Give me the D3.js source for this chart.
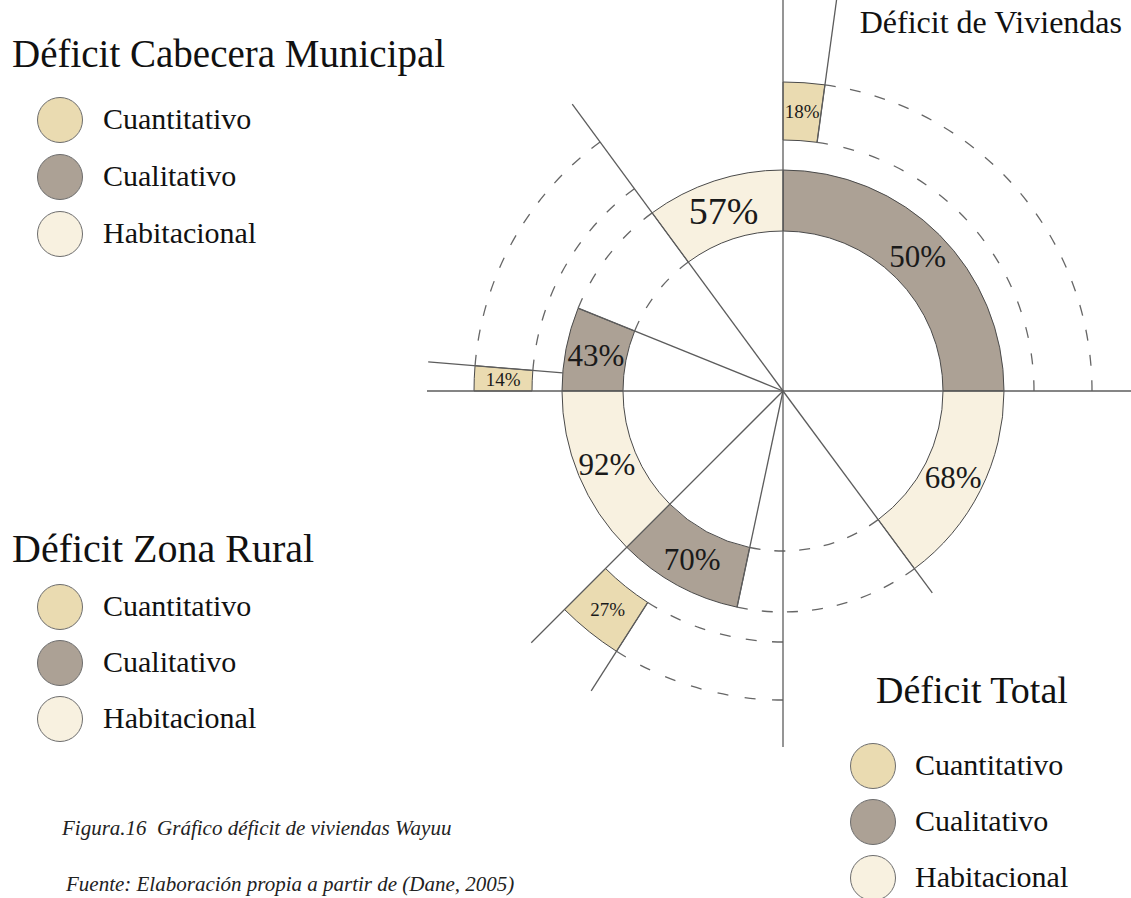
<!DOCTYPE html>
<html>
<head>
<meta charset="utf-8">
<script src="https://cdn.jsdelivr.net/npm/d3@7"></script>
<style>
  body { margin: 0; background: #fff; }
  svg { display: block; font-family: "Liberation Serif", "Times New Roman", serif; }
</style>
</head>
<body>
<div id="chart"></div>
<script>
// categories and colours
const categories = ["Cuantitativo", "Cualitativo", "Habitacional"];
const categoryColors = ["#eadbb1", "#aca195", "#f8f1e0"];

// segments (group, category, value, angular extent in degrees, clockwise from north)
const segGroup    = ["Total", "Total", "Total", "Cabecera", "Cabecera", "Cabecera", "Rural", "Rural", "Rural"];
const segCategory = ["Cuantitativo", "Cualitativo", "Habitacional", "Cuantitativo", "Cualitativo", "Habitacional", "Cuantitativo", "Cualitativo", "Habitacional"];
const segValue    = [18, 50, 68, 14, 43, 57, 27, 70, 92];
const segStart    = [0, 0, 90, 270, 270, 323.7, 212.6, 192, 225];
const segEnd      = [7.8, 90, 143.5, 274.7, 292, 360, 225, 225, 270];

// dashed guide arcs (ring, edge, from, to)
const guideRing  = ["outer", "outer", "inner", "inner", "outer", "outer", "inner", "inner", "outer", "outer"];
const guideEdge  = [0, 1, 0, 1, 0, 1, 0, 1, 0, 1];
const guideStart = [7.8, 7.8, 143.5, 143.5, 274.7, 274.7, 292, 292, 180, 180];
const guideEnd   = [90, 90, 192, 192, 323.7, 323.7, 323.7, 323.7, 212.6, 212.6];

// radial rules (angle, from ring edge, to length)
const ruleAngle = [0, 90, 180, 270, 7.8, 143.5, 192, 212.6, 225, 274.7, 292, 323.7];
const ruleFrom  = ["c", "c", "c", "c", "o0", "c", "c", "o0", "c", "i1", "c", "c"];
const ruleTo    = ["top", "axis", "axis", "axis", "top", "o0", "i1", "axis", "axis", "axis", "i1", "axis"];

// legends
const legendTitles = ["Déficit Cabecera Municipal", "Déficit Zona Rural", "Déficit Total"];

const width = 1131, height = 898;
const cx = 783, cy = 391;

const svg = d3.select("#chart").append("svg")
    .attr("width", width)
    .attr("height", height);

const angle = d3.scaleLinear().domain([0, 360]).range([0, 2 * Math.PI]);
const ring = { inner: [160, 221], outer: [251, 309] };
const ringOf = d3.scaleOrdinal().domain(categories).range(["outer", "inner", "inner"]);
const color = d3.scaleOrdinal().domain(categories).range(categoryColors);
const radius = key => {
  if (key === "c") return 0;
  if (key === "top") return 400;
  if (key === "axis") return 356;
  const r = key[0] === "o" ? ring.outer : ring.inner;
  return r[+key[1]];
};

const g = svg.append("g").attr("transform", `translate(${cx},${cy})`);

// segments
const segs = segValue.map((v, i) => ({
  value: v,
  category: segCategory[i],
  group: segGroup[i],
  innerRadius: ring[ringOf(segCategory[i])][0],
  outerRadius: ring[ringOf(segCategory[i])][1],
  startAngle: angle(segStart[i]),
  endAngle: angle(segEnd[i])
}));

const arc = d3.arc();

g.selectAll(".seg")
  .data(segs)
  .join("path")
    .attr("class", "seg")
    .attr("d", arc)
    .attr("fill", d => color(d.category))
    .attr("stroke", "#4a4a4a")
    .attr("stroke-width", 1);

// dashed guides
const dashFor = len => {
  const dash = 11;
  const n = Math.max(2, Math.round((len + 15) / (dash + 15)));
  const gap = (len - n * dash) / (n - 1);
  return dash + "," + gap;
};

guideRing.forEach((rk, i) => {
  const r = ring[rk][guideEdge[i]];
  const a0 = angle(guideStart[i]), a1 = angle(guideEnd[i]);
  const p = d3.path();
  p.arc(0, 0, r, a0 - Math.PI / 2, a1 - Math.PI / 2);
  g.append("path")
    .attr("d", p.toString())
    .attr("fill", "none")
    .attr("stroke", "#666")
    .attr("stroke-width", 1.3)
    .attr("stroke-dasharray", dashFor(r * (a1 - a0)));
});

// radial rules
ruleAngle.forEach((a, i) => {
  const t = angle(a);
  const r0 = radius(ruleFrom[i]), r1 = radius(ruleTo[i]);
  g.append("line")
    .attr("x1", r0 * Math.sin(t)).attr("y1", -r0 * Math.cos(t))
    .attr("x2", r1 * Math.sin(t)).attr("y2", -r1 * Math.cos(t))
    .attr("stroke", "#5c5c5c")
    .attr("stroke-width", 1.3);
});

// value labels
g.selectAll(".lbl")
  .data(segs)
  .join("text")
    .attr("class", "lbl")
    .attr("transform", d => `translate(${arc.centroid(d)})`)
    .attr("text-anchor", "middle")
    .attr("dy", "0.36em")
    .attr("font-size", d => d.category === "Cuantitativo" ? 19 : (d.value === 57 ? 38 : 31))
    .attr("fill", "#1a1a1a")
    .text(d => d.value + "%");

// legends
const legendPos = [
  { x: 12, y: 67, tx: 39, cx: 60, cy: 120, step: 57, tsize: 30, txt: 103 },
  { x: 12, y: 562, tx: 40, cx: 60, cy: 607, step: 56, tsize: 30, txt: 103 },
  { x: 876, y: 703, tx: 38, cx: 873, cy: 766, step: 56, tsize: 30, txt: 915 }
];

legendTitles.forEach((title, k) => {
  const p = legendPos[k];
  const lg = svg.append("g");
  lg.append("text")
    .attr("x", p.x).attr("y", p.y)
    .attr("font-size", p.tx)
    .attr("fill", "#111")
    .text(title);
  const item = lg.selectAll("g")
    .data(categories)
    .join("g")
      .attr("transform", (d, i) => `translate(0,${p.cy + i * p.step})`);
  item.append("circle")
    .attr("cx", p.cx).attr("r", 22.5)
    .attr("fill", d => color(d))
    .attr("stroke", "#6d6d6d")
    .attr("stroke-width", 1);
  item.append("text")
    .attr("x", p.txt).attr("y", 9)
    .attr("font-size", p.tsize)
    .attr("fill", "#111")
    .text(d => d);
});

svg.append("text")
  .attr("x", 1122).attr("y", 33)
  .attr("text-anchor", "end")
  .attr("font-size", 32)
  .attr("fill", "#111")
  .text("Déficit de Viviendas");

svg.append("text")
  .attr("x", 62).attr("y", 835)
  .attr("font-size", 21)
  .attr("font-style", "italic")
  .attr("fill", "#222")
  .attr("xml:space", "preserve")
  .text("Figura.16  Gráfico déficit de viviendas Wayuu");

svg.append("text")
  .attr("x", 66).attr("y", 891)
  .attr("font-size", 21)
  .attr("font-style", "italic")
  .attr("fill", "#222")
  .text("Fuente: Elaboración propia a partir de (Dane, 2005)");
</script>
</body>
</html>
